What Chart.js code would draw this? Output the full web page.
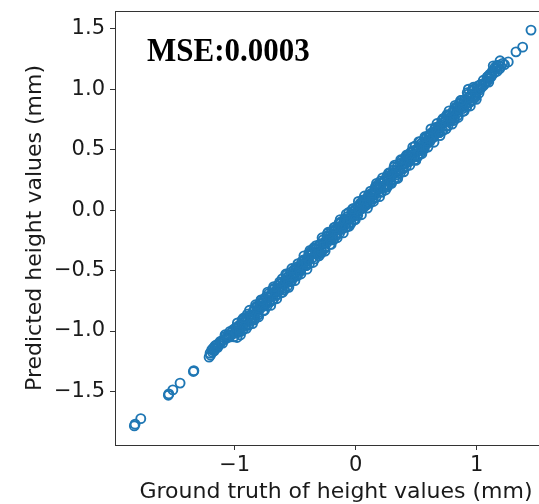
<!DOCTYPE html>
<html>
<head>
<meta charset="utf-8">
<script src="https://cdn.jsdelivr.net/npm/chart.js@4/dist/chart.umd.min.js"></script>
<style>
    html, body { margin: 0; padding: 0; background: #fff; overflow: hidden; width: 539px; height: 504px; }
    .wrap { position: absolute; left: 0; top: 0; width: 539px; height: 504px; overflow: hidden; }
    canvas { display: block; }
</style>
</head>
<body>
<div class="wrap">
    <canvas id="scatterCanvas" width="700" height="504"></canvas>
</div>
<script>
// Ground truth (x) and predicted (y) height values
const truthValues = [
    -1.830, -1.824, -1.777, -1.549, -1.545, -1.512, -1.452, -1.342, -1.338,
    -1.212, -1.204, -1.200, -1.190, -1.177, -1.170, -1.163, -1.149, -1.140, -1.121, -1.121, -1.110,
    -1.094, -1.080, -1.080, -1.070, -1.053, -1.045, -1.039, -1.025, -1.015, -0.998, -0.981, -0.970,
    -1.185, -1.155, -1.130, -1.100, -1.060, -1.030,
    -0.995, -1.008, -0.988, -0.970, -0.983, -0.963, -0.945, -0.958, -0.938, -0.920, -0.933, -0.913,
    -0.895, -0.908, -0.888, -0.870, -0.883, -0.863, -0.845, -0.858, -0.838, -0.820, -0.833, -0.813,
    -0.795, -0.808, -0.788, -0.770, -0.783, -0.763, -0.745, -0.758, -0.738, -0.720, -0.733, -0.713,
    -0.695, -0.708, -0.688, -0.670, -0.683, -0.663, -0.645, -0.658, -0.638, -0.620, -0.633, -0.613,
    -0.595, -0.608, -0.588, -0.570, -0.583, -0.563, -0.545, -0.558, -0.538, -0.520, -0.533, -0.513,
    -0.495, -0.508, -0.488, -0.470, -0.483, -0.463, -0.445, -0.458, -0.438, -0.420, -0.433, -0.413,
    -0.395, -0.408, -0.388, -0.370, -0.383, -0.363, -0.345, -0.358, -0.338, -0.320, -0.333, -0.313,
    -0.295, -0.308, -0.288, -0.270, -0.283, -0.263, -0.245, -0.258, -0.238, -0.220, -0.233, -0.213,
    -0.195, -0.208, -0.188, -0.170, -0.183, -0.163, -0.145, -0.158, -0.138, -0.120, -0.133, -0.113,
    -0.095, -0.108, -0.088, -0.070, -0.083, -0.063, -0.045, -0.058, -0.038, -0.020, -0.033, -0.013,
    0.005, -0.008, 0.012, 0.030, 0.017, 0.037, 0.055, 0.042, 0.062, 0.080, 0.067, 0.087,
    0.105, 0.092, 0.112, 0.130, 0.117, 0.137, 0.155, 0.142, 0.162, 0.180, 0.167, 0.187,
    0.205, 0.192, 0.212, 0.230, 0.217, 0.237, 0.255, 0.242, 0.262, 0.280, 0.267, 0.287,
    0.305, 0.292, 0.312, 0.330, 0.317, 0.337, 0.355, 0.342, 0.362, 0.380, 0.367, 0.387,
    0.405, 0.392, 0.412, 0.430, 0.417, 0.437, 0.455, 0.442, 0.462, 0.480, 0.467, 0.487,
    0.505, 0.492, 0.512, 0.530, 0.517, 0.537, 0.555, 0.542, 0.562, 0.580, 0.567, 0.587,
    0.605, 0.592, 0.612, 0.630, 0.617, 0.637, 0.655, 0.642, 0.662, 0.680, 0.667, 0.687,
    0.705, 0.692, 0.712, 0.730, 0.717, 0.737, 0.755, 0.742, 0.762, 0.780, 0.767, 0.787,
    0.805, 0.792, 0.812, 0.830, 0.817, 0.837, 0.855, 0.842, 0.862, 0.880, 0.867, 0.887,
    0.905, 0.892, 0.912, 0.930, 0.917, 0.937, 0.955, 0.942, 0.962, 0.980, 0.967, 0.987,
    1.005, 0.992, 1.012, 0.931, 1.019, 0.986,
    -0.990, -0.982, -0.965, -0.957, -0.940, -0.932, -0.915, -0.907, -0.890, -0.882,
    -0.865, -0.857, -0.840, -0.832, -0.815, -0.807, -0.790, -0.782, -0.765, -0.757,
    -0.740, -0.732, -0.715, -0.707, -0.690, -0.682, -0.665, -0.657, -0.640, -0.632,
    -0.615, -0.607, -0.590, -0.582, -0.565, -0.557, -0.540, -0.532, -0.515, -0.507,
    -0.490, -0.482, -0.465, -0.457, -0.440, -0.432, -0.415, -0.407, -0.390, -0.382,
    -0.365, -0.357, -0.340, -0.332, -0.315, -0.307, -0.290, -0.282, -0.265, -0.257,
    -0.240, -0.232, -0.215, -0.207, -0.190, -0.182, -0.165, -0.157, -0.140, -0.132,
    -0.115, -0.107, -0.090, -0.082, -0.065, -0.057, -0.040, -0.032, -0.015, -0.007,
    0.010, 0.018, 0.035, 0.043, 0.060, 0.068, 0.085, 0.093, 0.110, 0.118,
    0.135, 0.143, 0.160, 0.168, 0.185, 0.193, 0.210, 0.218, 0.235, 0.243,
    0.260, 0.268, 0.285, 0.293, 0.310, 0.318, 0.335, 0.343, 0.360, 0.368,
    0.385, 0.393, 0.410, 0.418, 0.435, 0.443, 0.460, 0.468, 0.485, 0.493,
    0.510, 0.518, 0.535, 0.543, 0.560, 0.568, 0.585, 0.593, 0.610, 0.618,
    0.635, 0.643, 0.660, 0.668, 0.685, 0.693, 0.710, 0.718, 0.735, 0.743,
    0.760, 0.768, 0.785, 0.793, 0.810, 0.818, 0.835, 0.843, 0.860, 0.868,
    0.885, 0.893, 0.910, 0.918, 0.935, 0.943, 0.960, 0.968, 0.985, 0.993,
    -0.978, -0.953, -0.928, -0.903, -0.878, -0.853, -0.828, -0.803, -0.778, -0.753,
    -0.728, -0.703, -0.678, -0.653, -0.628, -0.603, -0.578, -0.553, -0.528, -0.503,
    -0.478, -0.453, -0.428, -0.403, -0.378, -0.353, -0.328, -0.303, -0.278, -0.253,
    -0.228, -0.203, -0.178, -0.153, -0.128, -0.103, -0.078, -0.053, -0.028, -0.003,
    0.022, 0.047, 0.072, 0.097, 0.122, 0.147, 0.172, 0.197, 0.222, 0.247,
    0.272, 0.297, 0.322, 0.347, 0.372, 0.397, 0.422, 0.447, 0.472, 0.497,
    0.522, 0.547, 0.572, 0.597, 0.622, 0.647, 0.672, 0.697, 0.722, 0.747,
    0.772, 0.797, 0.822, 0.847, 0.872, 0.897, 0.922, 0.947, 0.972, 0.997,
    1.030, 1.025, 1.045, 1.055, 1.060, 1.075, 1.085, 1.090, 1.105, 1.110, 1.120, 1.130,
    1.040, 1.065, 1.095, 1.150, 1.190, 1.100, 1.125, 1.165,
    1.137, 1.145, 1.160, 1.170, 1.180, 1.193, 1.200, 1.215, 1.230, 1.261, 1.325, 1.380, 1.449
];

const predictedValues = [
    -1.785, -1.771, -1.725, -1.531, -1.520, -1.487, -1.431, -1.335, -1.328,
    -1.216, -1.183, -1.200, -1.155, -1.141, -1.165, -1.122, -1.114, -1.135, -1.100, -1.087, -1.085,
    -1.072, -1.045, -1.031, -1.060, -1.031, -1.050, -1.003, -1.010, -0.990, -1.017, -1.053, -1.003,
    -1.175, -1.140, -1.115, -1.100, -1.045, -1.035,
    -0.975, -1.048, -0.998, -0.960, -1.013, -1.008, -0.945, -1.008, -0.908, -0.890, -0.993, -0.913,
    -0.860, -0.913, -0.953, -0.900, -0.873, -0.913, -0.830, -0.893, -0.908, -0.795, -0.888, -0.828,
    -0.805, -0.868, -0.768, -0.790, -0.743, -0.833, -0.780, -0.743, -0.763, -0.690, -0.793, -0.713,
    -0.695, -0.758, -0.658, -0.645, -0.738, -0.678, -0.625, -0.698, -0.648, -0.605, -0.668, -0.683,
    -0.615, -0.568, -0.658, -0.535, -0.588, -0.628, -0.575, -0.548, -0.588, -0.530, -0.593, -0.493,
    -0.485, -0.538, -0.533, -0.505, -0.468, -0.488, -0.425, -0.498, -0.448, -0.410, -0.463, -0.458,
    -0.395, -0.458, -0.358, -0.340, -0.443, -0.363, -0.310, -0.363, -0.403, -0.350, -0.323, -0.363,
    -0.280, -0.343, -0.358, -0.245, -0.338, -0.278, -0.255, -0.318, -0.218, -0.240, -0.193, -0.283,
    -0.230, -0.193, -0.213, -0.140, -0.243, -0.163, -0.145, -0.208, -0.108, -0.095, -0.188, -0.128,
    -0.075, -0.148, -0.098, -0.055, -0.118, -0.133, -0.065, -0.018, -0.108, 0.015, -0.038, -0.078,
    -0.025, 0.002, -0.038, 0.020, -0.043, 0.057, 0.065, 0.012, 0.017, 0.045, 0.082, 0.062,
    0.125, 0.052, 0.102, 0.140, 0.087, 0.092, 0.155, 0.092, 0.192, 0.210, 0.107, 0.187,
    0.240, 0.187, 0.147, 0.200, 0.227, 0.187, 0.270, 0.207, 0.192, 0.305, 0.212, 0.272,
    0.295, 0.232, 0.332, 0.310, 0.357, 0.267, 0.320, 0.357, 0.337, 0.410, 0.307, 0.387,
    0.405, 0.342, 0.442, 0.455, 0.362, 0.422, 0.475, 0.402, 0.452, 0.495, 0.432, 0.417,
    0.485, 0.532, 0.442, 0.565, 0.512, 0.472, 0.525, 0.552, 0.512, 0.570, 0.507, 0.607,
    0.615, 0.562, 0.567, 0.595, 0.632, 0.612, 0.675, 0.602, 0.652, 0.690, 0.637, 0.642,
    0.705, 0.642, 0.742, 0.760, 0.657, 0.737, 0.790, 0.737, 0.697, 0.750, 0.777, 0.737,
    0.820, 0.757, 0.742, 0.855, 0.762, 0.822, 0.845, 0.782, 0.882, 0.860, 0.907, 0.817,
    0.870, 0.907, 0.887, 0.960, 0.857, 0.937, 0.955, 0.892, 0.992, 1.005, 0.912, 0.972,
    1.025, 0.952, 1.002, 1.001, 0.968, 0.932,
    -1.015, -0.977, -0.955, -0.992, -0.915, -0.952, -0.960, -0.917, -0.890, -0.942,
    -0.870, -0.907, -0.870, -0.812, -0.830, -0.847, -0.815, -0.777, -0.755, -0.792,
    -0.715, -0.752, -0.760, -0.717, -0.690, -0.742, -0.670, -0.707, -0.670, -0.612,
    -0.630, -0.647, -0.615, -0.577, -0.555, -0.592, -0.515, -0.552, -0.560, -0.517,
    -0.490, -0.542, -0.470, -0.507, -0.470, -0.412, -0.430, -0.447, -0.415, -0.377,
    -0.355, -0.392, -0.315, -0.352, -0.360, -0.317, -0.290, -0.342, -0.270, -0.307,
    -0.270, -0.212, -0.230, -0.247, -0.215, -0.177, -0.155, -0.192, -0.115, -0.152,
    -0.160, -0.117, -0.090, -0.142, -0.070, -0.107, -0.070, -0.012, -0.030, -0.047,
    -0.015, 0.023, 0.045, 0.008, 0.085, 0.048, 0.040, 0.083, 0.110, 0.058,
    0.130, 0.093, 0.130, 0.188, 0.170, 0.153, 0.185, 0.223, 0.245, 0.208,
    0.285, 0.248, 0.240, 0.283, 0.310, 0.258, 0.330, 0.293, 0.330, 0.388,
    0.370, 0.353, 0.385, 0.423, 0.445, 0.408, 0.485, 0.448, 0.440, 0.483,
    0.510, 0.458, 0.530, 0.493, 0.530, 0.588, 0.570, 0.553, 0.585, 0.623,
    0.645, 0.608, 0.685, 0.648, 0.640, 0.683, 0.710, 0.658, 0.730, 0.693,
    0.730, 0.788, 0.770, 0.753, 0.785, 0.823, 0.845, 0.808, 0.885, 0.848,
    0.840, 0.883, 0.910, 0.858, 0.930, 0.893, 0.930, 0.988, 0.970, 0.953,
    -0.933, -1.033, -0.893, -0.978, -0.828, -0.938, -0.783, -0.883, -0.743, -0.828,
    -0.678, -0.788, -0.633, -0.733, -0.593, -0.678, -0.528, -0.638, -0.483, -0.583,
    -0.443, -0.528, -0.378, -0.488, -0.333, -0.433, -0.293, -0.378, -0.228, -0.338,
    -0.183, -0.283, -0.143, -0.228, -0.078, -0.188, -0.033, -0.133, 0.007, -0.078,
    0.072, -0.038, 0.117, 0.017, 0.157, 0.072, 0.222, 0.112, 0.267, 0.167,
    0.307, 0.222, 0.372, 0.262, 0.417, 0.317, 0.457, 0.372, 0.522, 0.412,
    0.567, 0.467, 0.607, 0.522, 0.672, 0.562, 0.717, 0.617, 0.757, 0.672,
    0.822, 0.712, 0.867, 0.767, 0.907, 0.822, 0.972, 0.862, 1.017, 0.917,
    1.040, 0.995, 1.030, 1.075, 1.035, 1.060, 1.100, 1.070, 1.090, 1.125, 1.105, 1.150,
    1.015, 1.050, 1.110, 1.180, 1.170, 1.060, 1.120, 1.195,
    1.194, 1.135, 1.170, 1.150, 1.200, 1.236, 1.190, 1.215, 1.205, 1.227, 1.310, 1.349, 1.490
];

const xTickValues = [-1, 0, 1];
const xTickLabels = ['\u22121', '0', '1'];
const yTickValues = [-1.5, -1.0, -0.5, 0.0, 0.5, 1.0, 1.5];
const yTickLabels = ['\u22121.5', '\u22121.0', '\u22120.5', '0.0', '0.5', '1.0', '1.5'];

const xAxisTitle = 'Ground truth of height values (mm)';
const yAxisTitle = 'Predicted height values (mm)';
const mseLabel = 'MSE:0.0003';

const AXIS_COLOR = '#333333';
const TEXT_COLOR = '#1a1a1a';
const POINT_COLOR = '#1f77b4';

// MSE-Beschriftung oben links im Plotbereich
const mseTextPlugin = {
    id: 'mseText',
    afterDraw(chart) {
        const ctx = chart.ctx;
        ctx.save();
        ctx.translate(147, 61);
        ctx.scale(1, 1.08);
        ctx.font = 'bold 31px "Liberation Serif", "Times New Roman", serif';
        ctx.fillStyle = '#000';
        ctx.textBaseline = 'alphabetic';
        ctx.textAlign = 'left';
        ctx.fillText(mseLabel, 0, 0);
        ctx.restore();
    }
};

// Achsen ohne automatisches Label-Padding, damit der Plotbereich exakt sitzt
const noPad = (s) => {
    s.paddingTop = 0;
    s.paddingBottom = 0;
    s.paddingLeft = 0;
    s.paddingRight = 0;
};

const ctx = document.getElementById('scatterCanvas').getContext('2d');

new Chart(ctx, {
    type: 'scatter',
    data: {
        datasets: [{
            data: truthValues.map((x, i) => ({ x, y: predictedValues[i] })),
            pointStyle: 'circle',
            pointRadius: 4.5,
            pointHoverRadius: 4.5,
            pointBorderWidth: 1.9,
            borderColor: POINT_COLOR,
            backgroundColor: 'rgba(0, 0, 0, 0)'
        }]
    },
    options: {
        responsive: false,
        animation: false,
        events: [],
        // rechter Rand liegt ausserhalb des sichtbaren Bereichs (im Original abgeschnitten)
        layout: { padding: { left: 0, top: 0, bottom: 0, right: 143 } },
        plugins: {
            legend: { display: false },
            tooltip: { enabled: false }
        },
        scales: {
            x: {
                type: 'linear',
                position: 'bottom',
                min: -1.99,
                max: 1.664,
                afterBuildTicks: (s) => { s.ticks = xTickValues.map(v => ({ value: v })); },
                afterFit: (s) => { s.height = 59; noPad(s); },
                ticks: {
                    callback: (v, i) => xTickLabels[i],
                    autoSkip: false,
                    maxRotation: 0,
                    padding: 3,
                    color: TEXT_COLOR,
                    font: { family: 'DejaVu Sans', size: 21 }
                },
                grid: { drawOnChartArea: false, tickLength: 5, color: AXIS_COLOR },
                border: { color: AXIS_COLOR, width: 1 },
                title: {
                    display: true,
                    text: xAxisTitle,
                    color: TEXT_COLOR,
                    font: { family: 'DejaVu Sans', size: 22, lineHeight: 1.0 },
                    padding: { top: 0, bottom: 1 }
                }
            },
            y: {
                type: 'linear',
                position: 'left',
                min: -1.943,
                max: 1.648,
                afterBuildTicks: (s) => { s.ticks = yTickValues.map(v => ({ value: v })); },
                afterFit: (s) => { s.width = 115; noPad(s); },
                ticks: {
                    callback: (v, i) => yTickLabels[i],
                    autoSkip: false,
                    padding: 5,
                    color: TEXT_COLOR,
                    font: { family: 'DejaVu Sans', size: 21 }
                },
                grid: { drawOnChartArea: false, tickLength: 5, color: AXIS_COLOR },
                border: { color: AXIS_COLOR, width: 1 },
                title: {
                    display: true,
                    text: yAxisTitle,
                    color: TEXT_COLOR,
                    font: { family: 'DejaVu Sans', size: 22, lineHeight: 1.0 },
                    padding: { top: 24, bottom: 0 }
                }
            },
            xTop: {
                type: 'linear',
                axis: 'x',
                position: 'top',
                min: -1.99,
                max: 1.664,
                afterBuildTicks: (s) => { s.ticks = xTickValues.map(v => ({ value: v })); },
                afterFit: (s) => { s.height = 11; noPad(s); },
                ticks: { display: false },
                grid: { display: false },
                border: { color: AXIS_COLOR, width: 1 }
            }
        }
    },
    plugins: [mseTextPlugin]
});
</script>
</body>
</html>
